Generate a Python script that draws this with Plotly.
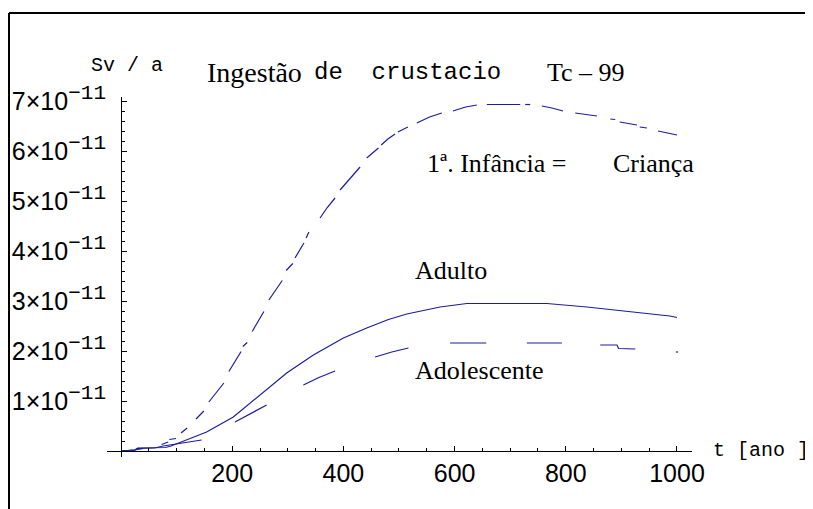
import plotly.graph_objects as go

# t in years, dose in units of 1e-11 Sv/a (None = gap in the drawn line)
t_crianca = [0, 25, 40, None, 73, 85, None, 87, 99, None, 108, 119, None, 135, 142, 149, None,
             158, 170, 185, None, 194, 205, 216, None, 219, 227, None, 236, 246, 257, None,
             266, 278, 290, None, 297, 309, None, 313, 321, 329, None, 333, 338, None,
             358, 371, 385, None, 394, 412, 430, None, 442, 454, 463, None, 468, 480, 493, None,
             498, 516, None, 532, 555, 577, None, 597, 620, 640, None, 658, 690, 718, None,
             727, 736, None, 757, 775, 795, None, 817, 836, 856, None, 880, 889, None,
             897, 912, 928, None, 933, 946, None, 966, 985, 1000]
v_crianca = [0, 0.02, 0.05, None, 0.13, 0.18, None, 0.23, 0.25, None, 0.36, 0.46, None, 0.64, 0.72, 0.80, None,
             0.98, 1.16, 1.36, None, 1.59, 1.78, 1.99, None, 2.09, 2.17, None, 2.39, 2.58, 2.79, None,
             3.02, 3.22, 3.41, None, 3.61, 3.75, None, 3.86, 4.01, 4.16, None, 4.26, 4.38, None,
             4.66, 4.87, 5.06, None, 5.22, 5.46, 5.68, None, 5.86, 5.98, 6.06, None, 6.12, 6.24, 6.34, None,
             6.38, 6.48, None, 6.56, 6.68, 6.76, None, 6.80, 6.88, 6.92, None, 6.93, 6.93, 6.93, None,
             6.93, 6.93, None, 6.90, 6.86, 6.80, None, 6.76, 6.73, 6.70, None, 6.64, 6.63, None,
             6.58, 6.55, 6.52, None, 6.48, 6.46, None, 6.40, 6.36, 6.32]

t_adulto = [0, 25, 30, 80, 90, 118, 154, 202, 250, 298, 346, 400, 442, 481, 514, 543, 574, 622,
            766, 838, 891, 939, 987, 1000]
v_adulto = [0, 0.02, 0.06, 0.07, 0.10, 0.22, 0.38, 0.68, 1.12, 1.56, 1.92, 2.26, 2.46, 2.63, 2.74,
            2.81, 2.88, 2.95, 2.95, 2.88, 2.82, 2.76, 2.70, 2.67]

t_adolescente = [0, 25, 30, 60, 76, 100, 130, 145, None, 205, 234, 262, None, 328, 356, 385, None,
                 457, 487, 517, None, 592, 657, None, 730, 793, None, 862, 892, 895, 925, None, 998, 1002]
v_adolescente = [0, 0.02, 0.05, 0.06, 0.10, 0.14, 0.18, 0.22, None, 0.58, 0.75, 0.92, None, 1.32, 1.47, 1.60, None,
                 1.88, 1.98, 2.06, None, 2.16, 2.16, None, 2.16, 2.16, None, 2.12, 2.12, 2.05, 2.04, None, 1.98, 1.98]

x_major = [200, 400, 600, 800, 1000]
x_minor = [50, 100, 150, 250, 300, 350, 450, 500, 550, 650, 700, 750, 850, 900, 950]
y_major = [1, 2, 3, 4, 5, 6, 7]
y_minor = [k / 5 for k in range(1, 36) if k % 5]

E = 1e-11
blue = '#1c1c9e'

x_lo, x_hi = -25.18, 1027.0
y_lo, y_hi = -0.12, 7.08

# page body has an 8px default margin, so the figure is made 8px smaller and shifted
PAGE = 8


def sc(vals):
    return [None if v is None else v * E for v in vals]


def px(t):
    return (t - x_lo) / (x_hi - x_lo)


def py(v):
    return (v - y_lo) / (y_hi - y_lo)


fig = go.Figure()
for t, v in [(t_crianca, v_crianca), (t_adulto, v_adulto), (t_adolescente, v_adolescente)]:
    fig.add_trace(go.Scatter(x=t, y=sc(v), mode='lines', line=dict(color=blue, width=1.2),
                             connectgaps=False, hoverinfo='skip'))

ytext = [f"{k}×10<sup><span style='font-family:Liberation Mono;font-size:21px'>−11</span></sup>"
         for k in y_major]

fig.update_layout(
    width=813 - PAGE, height=509 - PAGE,
    margin=dict(l=107 - PAGE, r=121, t=97 - PAGE, b=52),
    plot_bgcolor='white', paper_bgcolor='white',
    showlegend=False,
    font=dict(family='Liberation Sans', color='black'),
    xaxis=dict(range=[x_lo, x_hi], anchor='free', position=py(0), automargin=False,
               showline=True, linecolor='black', linewidth=1, showgrid=False, zeroline=False,
               ticks='inside', ticklen=5, tickcolor='black', tickwidth=1,
               tickmode='array', tickvals=x_major, ticktext=[str(v) for v in x_major],
               tickfont=dict(family='Liberation Sans', size=25, color='black'),
               ticklabelstandoff=0,
               minor=dict(tickmode='array', tickvals=x_minor, ticks='inside', ticklen=3,
                          tickcolor='black', showgrid=False)),
    yaxis=dict(range=[y_lo * E, y_hi * E], anchor='free', position=px(0), automargin=False,
               showline=True, linecolor='black', linewidth=1, showgrid=False, zeroline=False,
               ticks='inside', ticklen=5, tickcolor='black', tickwidth=1,
               tickmode='array', tickvals=[k * E for k in y_major], ticktext=ytext,
               tickfont=dict(family='Liberation Sans', size=25, color='black'),
               ticklabelstandoff=10,
               minor=dict(tickmode='array', tickvals=[k * E for k in y_minor], ticks='inside',
                          ticklen=3, tickcolor='black', showgrid=False)),
)

serif = dict(family='Liberation Serif', size=26, color='black')
# text positions given in data units (t, 1e-11 Sv/a), placed through paper coords so they show outside the axes
notes = [
    ('Sv / a', -57.6, 7.72, dict(family='Liberation Mono', size=20, color='black')),
    ('Ingestão', 151, 7.58, dict(family='Liberation Serif', size=28, color='black')),
    ('de  crustacio', 343, 7.58, dict(family='Liberation Mono', size=24, color='black')),
    ('Tc – 99', 762, 7.58, serif),
    ('1ª. Infância =', 547, 5.76, serif),
    ('Criança', 881, 5.76, serif),
    ('Adulto', 525, 3.62, serif),
    ('Adolescente', 525, 1.62, serif),
    ('t [ano ]', 1061, 0.02, dict(family='Liberation Mono', size=20, color='black')),
]
for text, x, y, f in notes:
    fig.add_annotation(text=text, x=px(x), y=py(y), xref='paper', yref='paper', showarrow=False,
                       xanchor='left', yanchor='middle', font=f)

# frame around the whole graphic (Mathematica style): only its top and left edges are in view
frame = dict(type='line', xref='paper', yref='paper', xsizemode='pixel', ysizemode='pixel',
             xanchor=0, yanchor=1, line=dict(color='black', width=2))
fig.add_shape(**frame, x0=-98, x1=800, y0=84, y1=84)
fig.add_shape(**frame, x0=-98, x1=-98, y0=84, y1=-500)

fig.write_html("out.html")
